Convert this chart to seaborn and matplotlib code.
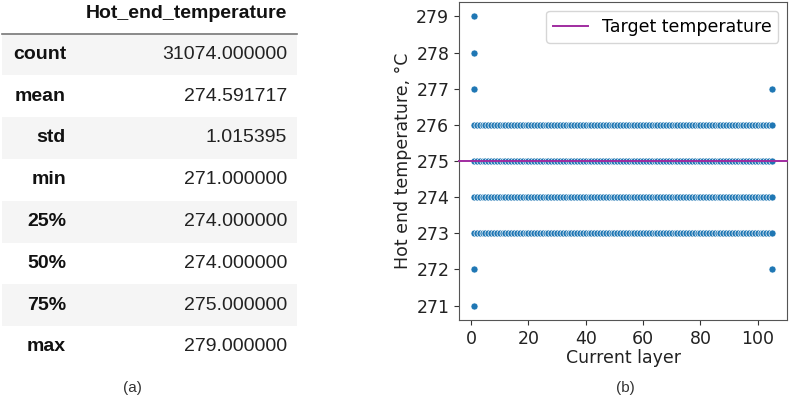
import numpy as np
import pandas as pd
import matplotlib
matplotlib.use("Agg")
import matplotlib.pyplot as plt
import seaborn as sns
from matplotlib.patches import Rectangle

# Summary statistics of the hot end temperature column
column_name = "Hot_end_temperature"
stat_names = ["count", "mean", "std", "min", "25%", "50%", "75%", "max"]
stat_values = ["31074.000000", "274.591717", "1.015395", "271.000000",
               "274.000000", "274.000000", "275.000000", "279.000000"]

# Temperature readings per printed layer
layer_numbers = list(range(1, 106))
regular_temps = [273, 274, 275, 276]
first_layer = 1
first_layer_extra_temps = [271, 272, 277, 278, 279]
last_layer = 105
last_layer_extra_temps = [272, 277]
target_temperature = 275

rows = []
for layer in layer_numbers:
    for t in regular_temps:
        rows.append((layer, t))
for t in first_layer_extra_temps:
    rows.append((first_layer, t))
for t in last_layer_extra_temps:
    rows.append((last_layer, t))
df = pd.DataFrame(rows, columns=["Current layer", "Hot end temperature"])

W, H = 790, 398
fig = plt.figure(figsize=(W / 100, H / 100), dpi=100)

# ---- (a) describe() table drawn in pixel coordinates ----
tab = fig.add_axes([0, 0, 1, 1])
tab.set_xlim(0, W)
tab.set_ylim(H, 0)
tab.axis("off")

tfont = "Liberation Sans"
row_top = 33.5
row_h = 41.8
label_x = 66
value_x = 287
tab.text(value_x, 13, column_name, ha="right", va="center", fontsize=14,
         fontweight="bold", family=tfont, color="#111111")
tab.plot([2, 297], [row_top, row_top], color="#777777", lw=1.2)
for i, (name, val) in enumerate(zip(stat_names, stat_values)):
    y0 = row_top + i * row_h
    if i % 2 == 0:
        tab.add_patch(Rectangle((2, y0), 295, row_h, facecolor="#f5f5f5",
                                edgecolor="none", zorder=0))
    yc = y0 + row_h / 2
    tab.text(label_x, yc, name, ha="right", va="center", fontsize=14,
             fontweight="bold", family=tfont, color="#111111")
    tab.text(value_x, yc, val, ha="right", va="center", fontsize=14,
             family=tfont, color="#222222")
tab.text(132, 388, "(a)", ha="center", va="center", fontsize=11,
         family=tfont, color="#333333")
tab.text(625, 388, "(b)", ha="center", va="center", fontsize=11,
         family=tfont, color="#333333")

# ---- (b) scatter of temperature against layer ----
ax = fig.add_axes([459 / W, 1 - 320 / H, (787 - 459) / W, (320 - 2) / H])
sns.scatterplot(data=df, x="Current layer", y="Hot end temperature", ax=ax,
                s=26, color="#1f77b4", edgecolor="white", linewidth=0.5,
                zorder=2)
ax.axhline(target_temperature, color="#a02ca0", lw=1.4,
           label="Target temperature", zorder=3, clip_on=False)
ax.set_yticks(range(271, 280))
ax.set_xticks(range(0, 101, 20))
ax.tick_params(labelsize=12.5, colors="#333333", labelcolor="#222222")
for s in ax.spines.values():
    s.set_color("#555555")
ax.set_xlabel("Current layer", fontsize=12.5, labelpad=1, color="#222222")
ax.set_ylabel("Hot end temperature, \u00b0C", fontsize=12.5, labelpad=3,
              color="#222222")
ax.legend(loc="upper right", fontsize=12.5, handlelength=2.0,
          borderaxespad=0.5)

fig.savefig("out.png", dpi=100)
